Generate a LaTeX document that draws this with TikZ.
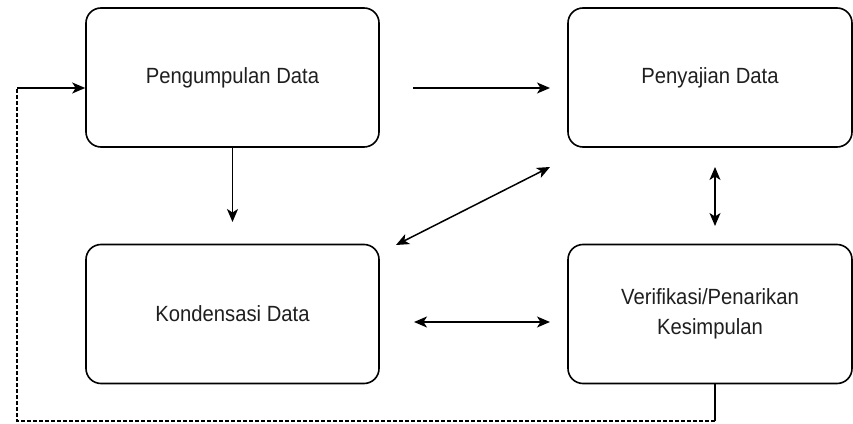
\documentclass[tikz,border=0pt]{standalone}
\usepackage{fontspec}
\setmainfont{Liberation Sans}[FakeStretch=0.92]
\usetikzlibrary{arrows.meta}
\definecolor{txt}{HTML}{1F1F1F}
\begin{document}
\begin{tikzpicture}[x=1pt,y=1pt,
  box/.style={draw=black, line width=1.6pt, rounded corners=15pt, fill=white,
    align=center, text=txt, inner sep=0pt,
    font=\fontsize{22}{30}\selectfont},
  wbox/.style={box, minimum width=293pt, minimum height=139pt},
  nbox/.style={box, minimum width=284pt, minimum height=139pt},
  tip/.tip={Stealth[length=13pt,width=11pt,inset=3.5pt]},
  arr/.style={line width=1.5pt, -tip},
  darr/.style={line width=1.5pt, tip-tip},
  fbsolid/.style={line width=1.2pt},
  fbdash/.style={line width=1.2pt, dash pattern=on 4pt off 2pt}]
\useasboundingbox (0,0) rectangle (853,423);
\node[wbox] (pd) at (232.5,345.5) {Pengumpulan Data};
\node[nbox] (py) at (710,345.5) {Penyajian Data};
\node[wbox] (kd) at (232.5,109) {Kondensasi Data};
\node[nbox] (vf) at (710,109) {Verifikasi/Penarikan\\Kesimpulan};
% free ends
\coordinate (h1a) at (413,335);
\coordinate (h1b) at (550,335);
\coordinate (v1b) at (232.5,201);
\coordinate (d1a) at (396,178);
\coordinate (d1b) at (550,256);
\coordinate (v2a) at (715,256);
\coordinate (v2b) at (715,197);
\coordinate (h2a) at (414,101);
\coordinate (h2b) at (550,101);
\coordinate (fb0) at (715,40);
\coordinate (fb1) at (715,2);
\coordinate (fb2) at (17,2);
\coordinate (fb3) at (17,335);
% connectors
\draw[arr] (h1a) -- (h1b);
\draw[arr] (pd.south) -- (v1b);
\draw[darr] (d1a) -- (d1b);
\draw[darr] (v2a) -- (v2b);
\draw[darr] (h2a) -- (h2b);
\draw[fbsolid] (vf.south -| fb0) -- (fb1);
\draw[fbdash] (fb1) -- (fb2) -- (fb3);
\draw[fbsolid,arr] (fb3) -- (pd.west |- fb3);
\end{tikzpicture}
\end{document}
